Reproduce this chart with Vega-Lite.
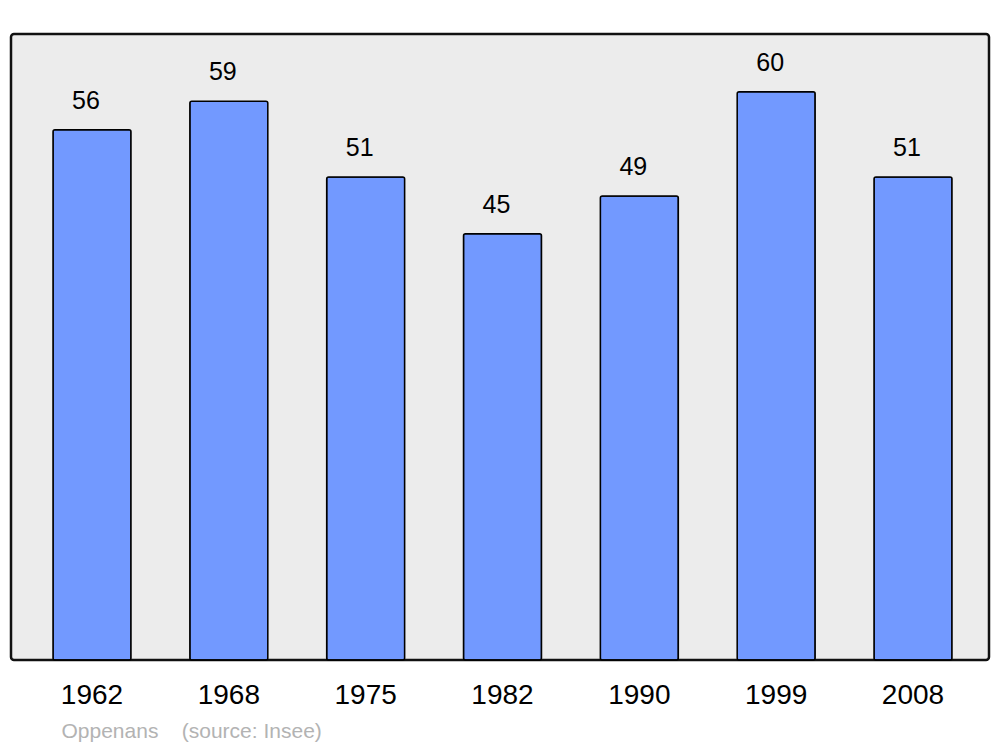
{
  "$schema": "https://vega.github.io/schema/vega-lite/v6.json",
  "width": 978,
  "height": 626,
  "autosize": {"type": "none"},
  "padding": {"left": 11, "top": 34, "right": 11, "bottom": 87},
  "background": "white",
  "config": {
    "font": "Liberation Sans",
    "view": {"fill": "#ececec", "stroke": "#111111", "strokeWidth": 2.5, "cornerRadius": 3}
  },
  "data": {
    "values": [
      {"year": "1962", "pop": 56},
      {"year": "1968", "pop": 59},
      {"year": "1975", "pop": 51},
      {"year": "1982", "pop": 45},
      {"year": "1990", "pop": 49},
      {"year": "1999", "pop": 60},
      {"year": "2008", "pop": 51}
    ]
  },
  "encoding": {
    "x": {
      "field": "year",
      "type": "ordinal",
      "scale": {"range": [42, 941], "paddingInner": 0.43, "paddingOuter": 0},
      "axis": {
        "domain": false,
        "ticks": false,
        "labelAngle": 0,
        "labelFontSize": 28,
        "labelColor": "black",
        "labelPadding": 35,
        "labelBaseline": "middle",
        "title": "Oppenans\u00a0\u00a0\u00a0\u00a0(source: Insee)",
        "titleFontSize": 21,
        "titleFontWeight": "normal",
        "titleColor": "#b3b3b3",
        "titleAnchor": "start",
        "titleAlign": "left",
        "titleX": 50,
        "titleY": 71,
        "titleBaseline": "middle"
      }
    },
    "y": {
      "field": "pop",
      "type": "quantitative",
      "scale": {"domain": [0, 66.1], "nice": false},
      "axis": null
    }
  },
  "layer": [
    {
      "mark": {"type": "bar", "fill": "#7299ff", "stroke": "black", "strokeWidth": 1.5, "cornerRadius": 2}
    },
    {
      "mark": {"type": "text", "fontSize": 25, "dy": -29, "dx": -6, "color": "black"},
      "encoding": {"text": {"field": "pop", "type": "quantitative"}}
    }
  ]
}
